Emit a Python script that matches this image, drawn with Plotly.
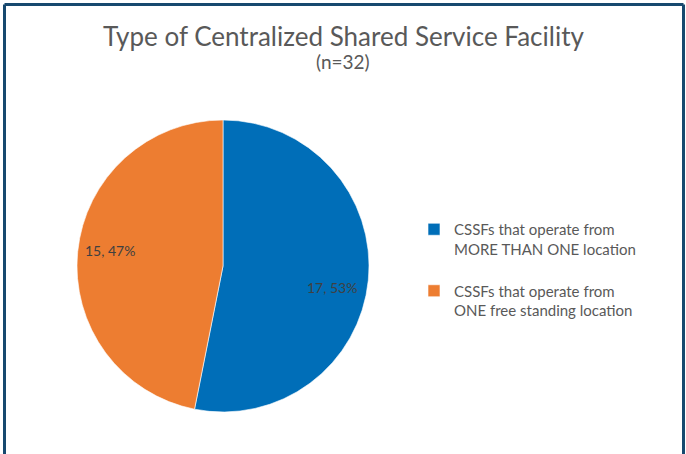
import plotly.graph_objects as go

# data
labels = [
    "CSSFs that operate from<br>MORE THAN ONE location",
    "CSSFs that operate from<br>ONE free standing location",
]
counts = [17, 15]
colors = ["#006EB8", "#ED7D31"]

W, H = 686, 454
total = sum(counts)

fig = go.Figure()

fig.add_trace(
    go.Pie(
        labels=[l + "<br> " for l in labels],  # empty line = gap between legend items
        values=counts,
        sort=False,
        direction="clockwise",
        rotation=0,
        marker=dict(colors=colors, line=dict(color="white", width=0.6)),
        textinfo="none",
        hovertext=labels,
        hoverinfo="text+value+percent",
        domain=dict(x=[77 / W, 369 / W], y=[(H - 412) / H, (H - 120) / H]),
    )
)

# slice labels, Excel puts them near the outer rim
label_pos = [(332, 287), (110, 251)]
for (px, py), c in zip(label_pos, counts):
    fig.add_annotation(
        x=px / W,
        y=1 - py / H,
        xref="paper",
        yref="paper",
        xanchor="center",
        yanchor="middle",
        text=f"{c}, {round(100 * c / total)}%",
        showarrow=False,
        font=dict(size=14, color="#404040"),
    )

# title + subtitle
fig.add_annotation(
    x=0.5, y=1 - 36 / H, xref="paper", yref="paper",
    xanchor="center", yanchor="middle",
    text="Type of Centralized Shared Service Facility",
    showarrow=False, font=dict(size=26, color="#595959"),
)
fig.add_annotation(
    x=0.5, y=1 - 62 / H, xref="paper", yref="paper",
    xanchor="center", yanchor="middle",
    text="(n=32)",
    showarrow=False, font=dict(size=19, color="#595959"),
)

# frame (left, top, right visible)
border = "#17496F"
for x0, y0, x1, y1 in [
    (4.5, 4.5, 4.5, H + 5),
    (4.5, 4.5, 683.5, 4.5),
    (683.5, 4.5, 683.5, H + 5),
]:
    fig.add_shape(
        type="line",
        xref="paper", yref="paper",
        x0=x0 / W, x1=x1 / W, y0=1 - y0 / H, y1=1 - y1 / H,
        line=dict(color=border, width=3),
    )

fig.update_layout(
    width=W,
    height=H,
    margin=dict(l=0, r=0, t=0, b=0),
    paper_bgcolor="white",
    font=dict(family="Lato, 'Open Sans', sans-serif", color="#595959"),
    legend=dict(
        x=414 / W,
        y=1 - 213 / H,
        xanchor="left",
        yanchor="top",
        font=dict(size=15, color="#595959"),
        valign="top",
        itemwidth=30,
        bgcolor="rgba(0,0,0,0)",
    ),
    showlegend=True,
)

# page body has an 8px default margin, drop it so the figure sits at 0,0
fig.write_html(
    "out.html",
    config={"displayModeBar": False},
    post_script="document.body.style.margin='0px';",
)
